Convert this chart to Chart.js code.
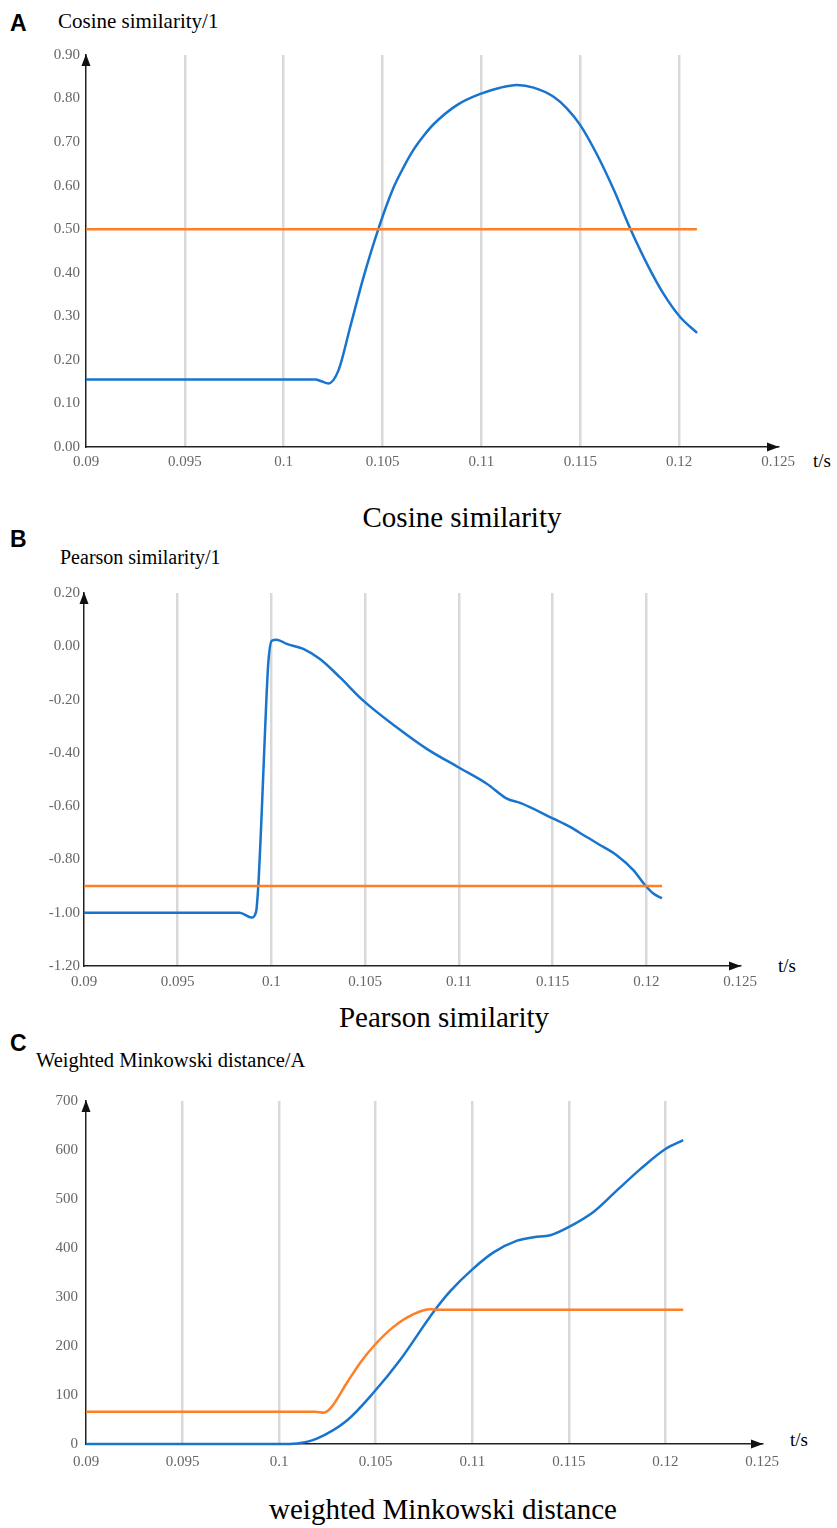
<!DOCTYPE html>
<html>
<head>
<meta charset="utf-8">
<script src="https://cdn.jsdelivr.net/npm/chart.js@4/dist/chart.umd.min.js"></script>
<style>
  body { margin: 0; background: #fff; width: 837px; height: 1528px; position: relative; overflow: hidden; }
  canvas { position: absolute; left: 0; }
  .txt { position: absolute; white-space: nowrap; line-height: 1; color: #000; }
  .serif { font-family: "Liberation Serif", "Times New Roman", serif; }
  .letter { font-family: "Liberation Sans", Arial, sans-serif; font-weight: bold; font-size: 23px; }
  .cap { font-size: 29px; transform: translateX(-50%); }
</style>
</head>
<body>
<div class="txt letter" style="left:10px;top:12px">A</div>
<div class="txt serif" style="left:58px;top:11px;font-size:21px">Cosine similarity/1</div>
<div class="txt serif" style="left:813px;top:451px;font-size:19px">t/s</div>
<div class="txt serif cap" style="left:462px;top:503px">Cosine similarity</div>

<div class="txt letter" style="left:10px;top:528px">B</div>
<div class="txt serif" style="left:60px;top:547px;font-size:20px">Pearson similarity/1</div>
<div class="txt serif" style="left:778px;top:956px;font-size:19px">t/s</div>
<div class="txt serif cap" style="left:444px;top:1003px">Pearson similarity</div>

<div class="txt letter" style="left:10px;top:1032px">C</div>
<div class="txt serif" style="left:36px;top:1050px;font-size:20.5px">Weighted Minkowski distance/A</div>
<div class="txt serif" style="left:790px;top:1430px;font-size:19px">t/s</div>
<div class="txt serif cap" style="left:443px;top:1495px">weighted Minkowski distance</div>

<canvas id="chartA" width="837" height="440" style="top:40px"></canvas>
<canvas id="chartB" width="837" height="420" style="top:580px"></canvas>
<canvas id="chartC" width="837" height="400" style="top:1084px"></canvas>

<script>
// eixo do tempo (comum aos três gráficos)
const xTicks = [0.09, 0.095, 0.1, 0.105, 0.11, 0.115, 0.12, 0.125];
const xTickLabels = ["0.09", "0.095", "0.1", "0.105", "0.11", "0.115", "0.12", "0.125"];

// A - cosine similarity
const cosYTicks = [0, 0.1, 0.2, 0.3, 0.4, 0.5, 0.6, 0.7, 0.8, 0.9];
const cosYLabels = ["0.00", "0.10", "0.20", "0.30", "0.40", "0.50", "0.60", "0.70", "0.80", "0.90"];
const cosT = [0.09, 0.1016, 0.1019, 0.10226, 0.10277, 0.10336, 0.10403, 0.10479, 0.10555, 0.10606,
  0.10656, 0.10707, 0.10758, 0.10876, 0.11002, 0.11095, 0.1118, 0.11264, 0.11365, 0.11433,
  0.1150, 0.11585, 0.11669, 0.11753, 0.11838, 0.11922, 0.12006, 0.12091];
const cosV = [0.155, 0.155, 0.151, 0.146, 0.176, 0.275, 0.389, 0.501, 0.595, 0.642,
  0.682, 0.714, 0.741, 0.785, 0.812, 0.825, 0.831, 0.825, 0.804, 0.777,
  0.739, 0.671, 0.591, 0.501, 0.420, 0.351, 0.298, 0.262];
const cosThrT = [0.09, 0.1209];
const cosThrV = [0.5, 0.5];

// B - pearson similarity
const pearYTicks = [-1.2, -1.0, -0.8, -0.6, -0.4, -0.2, 0, 0.2];
const pearYLabels = ["-1.20", "-1.00", "-0.80", "-0.60", "-0.40", "-0.20", "0.00", "0.20"];
const pearT = [0.09, 0.0983, 0.09895, 0.09918, 0.0993, 0.09948, 0.09966, 0.09983, 0.10002, 0.10028,
  0.10082, 0.1017, 0.10259, 0.10366, 0.1049, 0.10668, 0.10829, 0.10997, 0.11149, 0.11256,
  0.11327, 0.11504, 0.11593, 0.11682, 0.11771, 0.11842, 0.11931, 0.11994, 0.12038, 0.12083];
const pearV = [-1.0, -1.0, -1.018, -0.997, -0.897, -0.628, -0.316, -0.066, 0.021, 0.025,
  0.009, -0.010, -0.048, -0.117, -0.204, -0.304, -0.385, -0.454, -0.516, -0.572,
  -0.588, -0.647, -0.678, -0.716, -0.753, -0.784, -0.840, -0.897, -0.928, -0.946];
const pearThrT = [0.09, 0.12084];
const pearThrV = [-0.9, -0.9];

// C - weighted Minkowski distance
const minkYTicks = [0, 100, 200, 300, 400, 500, 600, 700];
const minkYLabels = ["0", "100", "200", "300", "400", "500", "600", "700"];
const minkT = [0.09, 0.1003, 0.1011, 0.10195, 0.10351, 0.10489, 0.10627, 0.108, 0.10886, 0.10999,
  0.1111, 0.11232, 0.11318, 0.11404, 0.11491, 0.11629, 0.1175, 0.1187, 0.12, 0.12092];
const minkV = [0, 0, 2, 11, 48, 105, 172, 270, 312, 356,
  391, 415, 422, 426, 441, 474, 518, 561, 602, 620];
const minkThrT = [0.09, 0.10187, 0.1023, 0.10264, 0.10351, 0.1042, 0.10497, 0.10592, 0.10696, 0.10782,
  0.10825, 0.12092];
const minkThrV = [66, 66, 64, 72, 125, 166, 203, 239, 265, 275, 274, 274];

const BLUE = "#1874cd";
const ORANGE = "#ff7f27";
const SERIF = "'Liberation Serif', 'Times New Roman', serif";

function toPoints(xs, ys) {
  return xs.map((x, i) => ({ x, y: ys[i] }));
}

// setas nas pontas dos eixos
const axisArrows = {
  id: "axisArrows",
  afterDraw(chart) {
    const { ctx, chartArea: a } = chart;
    ctx.save();
    ctx.fillStyle = "#111";
    ctx.beginPath();
    ctx.moveTo(a.right + 1, a.bottom);
    ctx.lineTo(a.right - 11, a.bottom - 4.5);
    ctx.lineTo(a.right - 11, a.bottom + 4.5);
    ctx.closePath();
    ctx.fill();
    ctx.beginPath();
    ctx.moveTo(a.left, a.top - 1);
    ctx.lineTo(a.left - 4.5, a.top + 11);
    ctx.lineTo(a.left + 4.5, a.top + 11);
    ctx.closePath();
    ctx.fill();
    ctx.restore();
  },
};

function makeChart(id, opts) {
  const ctx = document.getElementById(id).getContext("2d");
  return new Chart(ctx, {
    type: "line",
    data: {
      datasets: [
        {
          data: toPoints(opts.thrT, opts.thrV),
          borderColor: ORANGE,
          borderWidth: 2.5,
          pointRadius: 0,
          cubicInterpolationMode: "monotone",
          clip: false,
        },
        {
          data: toPoints(opts.t, opts.v),
          borderColor: BLUE,
          borderWidth: 2.5,
          pointRadius: 0,
          cubicInterpolationMode: "monotone",
          clip: false,
        },
      ],
    },
    options: {
      responsive: false,
      animation: false,
      events: [],
      layout: { padding: { left: 0, right: opts.padRight, top: opts.padTop, bottom: 0 } },
      plugins: { legend: { display: false }, tooltip: { enabled: false } },
      scales: {
        x: {
          type: "linear",
          min: 0.09,
          max: 0.125,
          afterBuildTicks: (s) => { s.ticks = xTicks.map((v) => ({ value: v })); },
          afterFit: (s) => { s.height = opts.xHeight; },
          ticks: {
            autoSkip: false,
            maxRotation: 0,
            padding: opts.xPad,
            color: "#666",
            font: { family: SERIF, size: 15 },
            callback: (v, i) => xTickLabels[i],
          },
          grid: {
            drawTicks: false,
            lineWidth: 2.5,
            color: (c) => (c.index === 0 || c.index === xTicks.length - 1 ? "rgba(0,0,0,0)" : "#d9d9d9"),
          },
          border: { display: true, color: "#222", width: 1.5 },
        },
        y: {
          type: "linear",
          min: opts.yTicks[0],
          max: opts.yTicks[opts.yTicks.length - 1],
          afterBuildTicks: (s) => { s.ticks = opts.yTicks.map((v) => ({ value: v })); },
          afterFit: (s) => { s.width = opts.yWidth; },
          ticks: {
            autoSkip: false,
            padding: opts.yPad,
            color: "#666",
            font: { family: SERIF, size: 15 },
            callback: (v, i) => opts.yLabels[i],
          },
          grid: { display: false, drawTicks: false },
          border: { display: true, color: "#222", width: 1.5 },
        },
      },
    },
    plugins: [axisArrows],
  });
}

makeChart("chartA", {
  t: cosT, v: cosV, thrT: cosThrT, thrV: cosThrV,
  yTicks: cosYTicks, yLabels: cosYLabels,
  yWidth: 86, padRight: 59, padTop: 13, xHeight: 33, xPad: 6, yPad: 6,
});

makeChart("chartB", {
  t: pearT, v: pearV, thrT: pearThrT, thrV: pearThrV,
  yTicks: pearYTicks, yLabels: pearYLabels,
  yWidth: 84, padRight: 97, padTop: 12, xHeight: 34, xPad: 7, yPad: 4,
});

makeChart("chartC", {
  t: minkT, v: minkV, thrT: minkThrT, thrV: minkThrV,
  yTicks: minkYTicks, yLabels: minkYLabels,
  yWidth: 86, padRight: 75, padTop: 12, xHeight: 40, xPad: 9, yPad: 8,
});
</script>
</body>
</html>
